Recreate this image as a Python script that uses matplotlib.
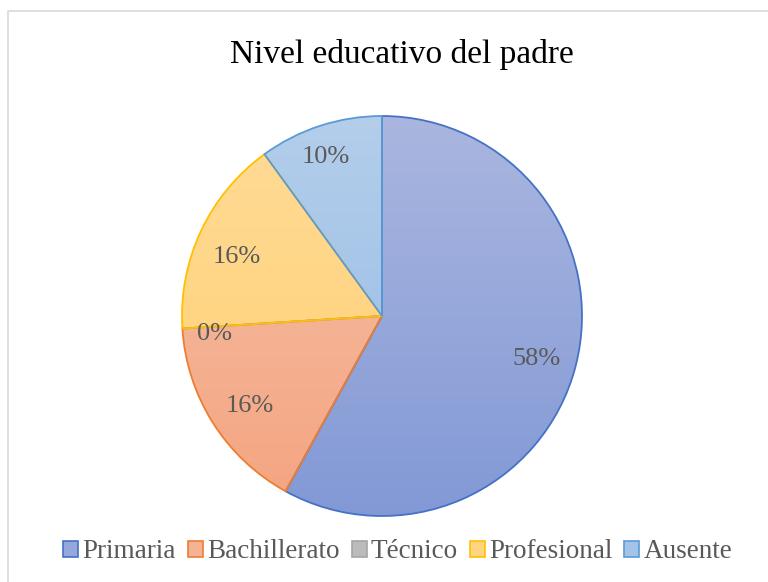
import numpy as np
import matplotlib.pyplot as plt
from matplotlib.colors import LinearSegmentedColormap, to_rgb
from matplotlib.patches import Patch, Rectangle

plt.rcParams['font.family'] = ['Liberation Serif', 'DejaVu Serif']

categories = ['Primaria', 'Bachillerato', 'Técnico', 'Profesional', 'Ausente']
percents = [58, 16, 0, 16, 10]

# light (top) -> dark (bottom) gradient, plus edge colour
top_colors = ['#AAB6DF', '#F6C2AB', '#C9C9C9', '#FFDB98', '#B4CEEB']
bottom_colors = ['#8299D6', '#F4A47F', '#ADADAD', '#FFD070', '#93B9E4']
edge_colors = ['#4472C4', '#ED7D31', '#A5A5A5', '#FFC000', '#5B9BD5']

# data-label placement (in pie radius units), Excel "best fit" style
label_pos = [(0.77, -0.215), (-0.66, -0.452), (-0.835, -0.09), (-0.725, 0.295), (-0.28, 0.797)]

fig = plt.figure(figsize=(7.68, 5.82), dpi=100)
fig.patches.append(Rectangle((8 / 768, -0.1), 1.2, 1 - 11 / 582 + 0.1, transform=fig.transFigure,
                             fill=False, edgecolor='#D9D9D9', linewidth=1.2))

ax = fig.add_axes([182 / 768, 66 / 582, 400 / 768, 400 / 582])

wedges, texts, autotexts = ax.pie(
    percents, startangle=90, counterclock=False,
    autopct=lambda p: f'{p:.0f}%', pctdistance=0.8,
    wedgeprops=dict(linewidth=1.3, clip_on=False),
    textprops=dict(color='#595959', fontsize=19))

for i, w in enumerate(wedges):
    w.set_facecolor('none')
    w.set_edgecolor(edge_colors[i])
    w.set_zorder(3)
    cmap = LinearSegmentedColormap.from_list(f'g{i}', [bottom_colors[i], top_colors[i]])
    grad = np.linspace(0, 1, 256).reshape(-1, 1)
    im = ax.imshow(grad, cmap=cmap, extent=(-1, 1, -1, 1), origin='lower',
                   aspect='auto', zorder=2)
    im.set_clip_path(w)

for t, pos in zip(autotexts, label_pos):
    t.set_position(pos)
    t.set_zorder(5)

ax.set_xlim(-1, 1)
ax.set_ylim(-1, 1)
ax.set_aspect('equal')
ax.axis('off')

fig.text(0.523, 1 - 54 / 582, 'Nivel educativo del padre', ha='center', va='center',
         fontsize=24, color='#000000')

handles = [Patch(facecolor=(np.array(to_rgb(top_colors[i])) + np.array(to_rgb(bottom_colors[i]))) / 2,
                 edgecolor=edge_colors[i], linewidth=1.2) for i in range(len(categories))]
fig.legend(handles, categories, loc='center', bbox_to_anchor=(0.518, 1 - 552 / 582),
           ncol=5, frameon=False, fontsize=19.5, labelcolor='#595959',
           handlelength=0.55, handleheight=0.55, handletextpad=0.15, columnspacing=0.45)

fig.savefig('out.png', dpi=100)
